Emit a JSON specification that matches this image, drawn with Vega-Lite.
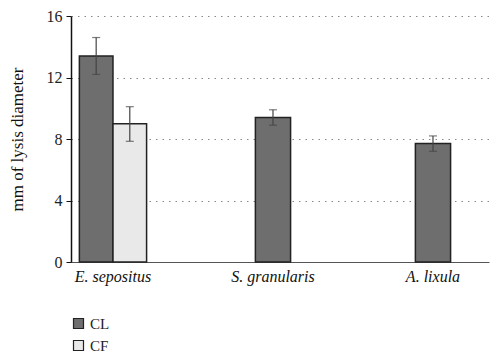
{
  "$schema": "https://vega.github.io/schema/vega-lite/v6.json",
  "width": 418,
  "height": 246,
  "padding": {"left": 8, "top": 8, "right": 5, "bottom": 5},
  "background": "white",
  "config": {
    "font": "Times New Roman, Liberation Serif, serif",
    "view": {"stroke": null},
    "axis": {"labelFont": "Times New Roman, Liberation Serif, serif", "titleFont": "Times New Roman, Liberation Serif, serif"},
    "legend": {"labelFont": "Times New Roman, Liberation Serif, serif"}
  },
  "data": {
    "values": [
      {"species": "E. sepositus", "series": "CL", "mean": 13.4, "lo": 12.2, "hi": 14.6},
      {"species": "E. sepositus", "series": "CF", "mean": 9.0, "lo": 7.85, "hi": 10.1},
      {"species": "S. granularis", "series": "CL", "mean": 9.4, "lo": 8.9, "hi": 9.9},
      {"species": "A. lixula", "series": "CL", "mean": 7.7, "lo": 7.2, "hi": 8.2}
    ]
  },
  "encoding": {
    "x": {
      "field": "species",
      "type": "nominal",
      "sort": ["E. sepositus", "S. granularis", "A. lixula"],
      "scale": {"paddingInner": 0.5, "paddingOuter": 0.05625, "align": 0.11},
      "axis": {
        "title": null,
        "labelAngle": 0,
        "ticks": false,
        "labelFontStyle": "italic",
        "labelFontSize": 16,
        "labelColor": "#111",
        "labelPadding": 6,
        "domainColor": "#555",
        "domainWidth": 1,
        "grid": false
      }
    },
    "y": {
      "type": "quantitative",
      "scale": {"domain": [0, 16]},
      "axis": {
        "title": "mm of lysis diameter",
        "titleFontSize": 17,
        "titleFontWeight": "normal",
        "titleColor": "#111",
        "titlePadding": 20,
        "values": [0, 4, 8, 12, 16],
        "labelFontSize": 16,
        "labelColor": "#222",
        "labelPadding": 4,
        "tickSize": 5,
        "tickColor": "#111",
        "domainColor": "#111",
        "domainWidth": 1.5,
        "grid": true,
        "gridColor": "#888",
        "gridDash": [1.5, 5],
        "gridWidth": 1
      }
    }
  },
  "layer": [
    {
      "transform": [{"filter": "datum.species === 'E. sepositus'"}],
      "mark": {"type": "bar", "stroke": "#222", "strokeWidth": 1.5},
      "encoding": {
        "y": {"field": "mean", "type": "quantitative"},
        "xOffset": {"field": "series", "type": "nominal", "sort": ["CL", "CF"], "scale": {"paddingInner": 0, "paddingOuter": 0.19}},
        "color": {
          "field": "series",
          "type": "nominal",
          "sort": ["CL", "CF"],
          "scale": {"domain": ["CL", "CF"], "range": ["#6e6e6e", "#e9e9e9"]},
          "legend": {
            "title": null,
            "orient": "bottom",
            "direction": "vertical",
            "symbolType": "square",
            "symbolSize": 100,
            "symbolStrokeColor": "#222",
            "symbolStrokeWidth": 1.2,
            "labelFontSize": 15,
            "labelColor": "#222",
            "rowPadding": 6,
            "offset": 32
          }
        }
      }
    },
    {
      "transform": [{"filter": "datum.species !== 'E. sepositus'"}],
      "mark": {"type": "bar", "stroke": "#222", "strokeWidth": 1.5, "width": {"band": 0.44}},
      "encoding": {
        "y": {"field": "mean", "type": "quantitative"},
        "color": {"field": "series", "type": "nominal"}
      }
    },
    {
      "transform": [{"filter": "datum.species === 'E. sepositus'"}],
      "mark": {"type": "rule", "color": "#444", "strokeWidth": 1.2},
      "encoding": {
        "y": {"field": "lo", "type": "quantitative"},
        "y2": {"field": "hi"},
        "xOffset": {"field": "series", "type": "nominal", "sort": ["CL", "CF"]}
      }
    },
    {
      "transform": [{"filter": "datum.species === 'E. sepositus'"}, {"fold": ["lo", "hi"], "as": ["end", "val"]}],
      "mark": {"type": "tick", "color": "#444", "thickness": 1.2, "size": 8, "orient": "horizontal"},
      "encoding": {
        "y": {"field": "val", "type": "quantitative"},
        "xOffset": {"field": "series", "type": "nominal", "sort": ["CL", "CF"]}
      }
    },
    {
      "transform": [{"filter": "datum.species !== 'E. sepositus'"}],
      "mark": {"type": "rule", "color": "#444", "strokeWidth": 1.2},
      "encoding": {
        "y": {"field": "lo", "type": "quantitative"},
        "y2": {"field": "hi"}
      }
    },
    {
      "transform": [{"filter": "datum.species !== 'E. sepositus'"}, {"fold": ["lo", "hi"], "as": ["end", "val"]}],
      "mark": {"type": "tick", "color": "#444", "thickness": 1.2, "size": 8, "orient": "horizontal"},
      "encoding": {
        "y": {"field": "val", "type": "quantitative"}
      }
    }
  ]
}
